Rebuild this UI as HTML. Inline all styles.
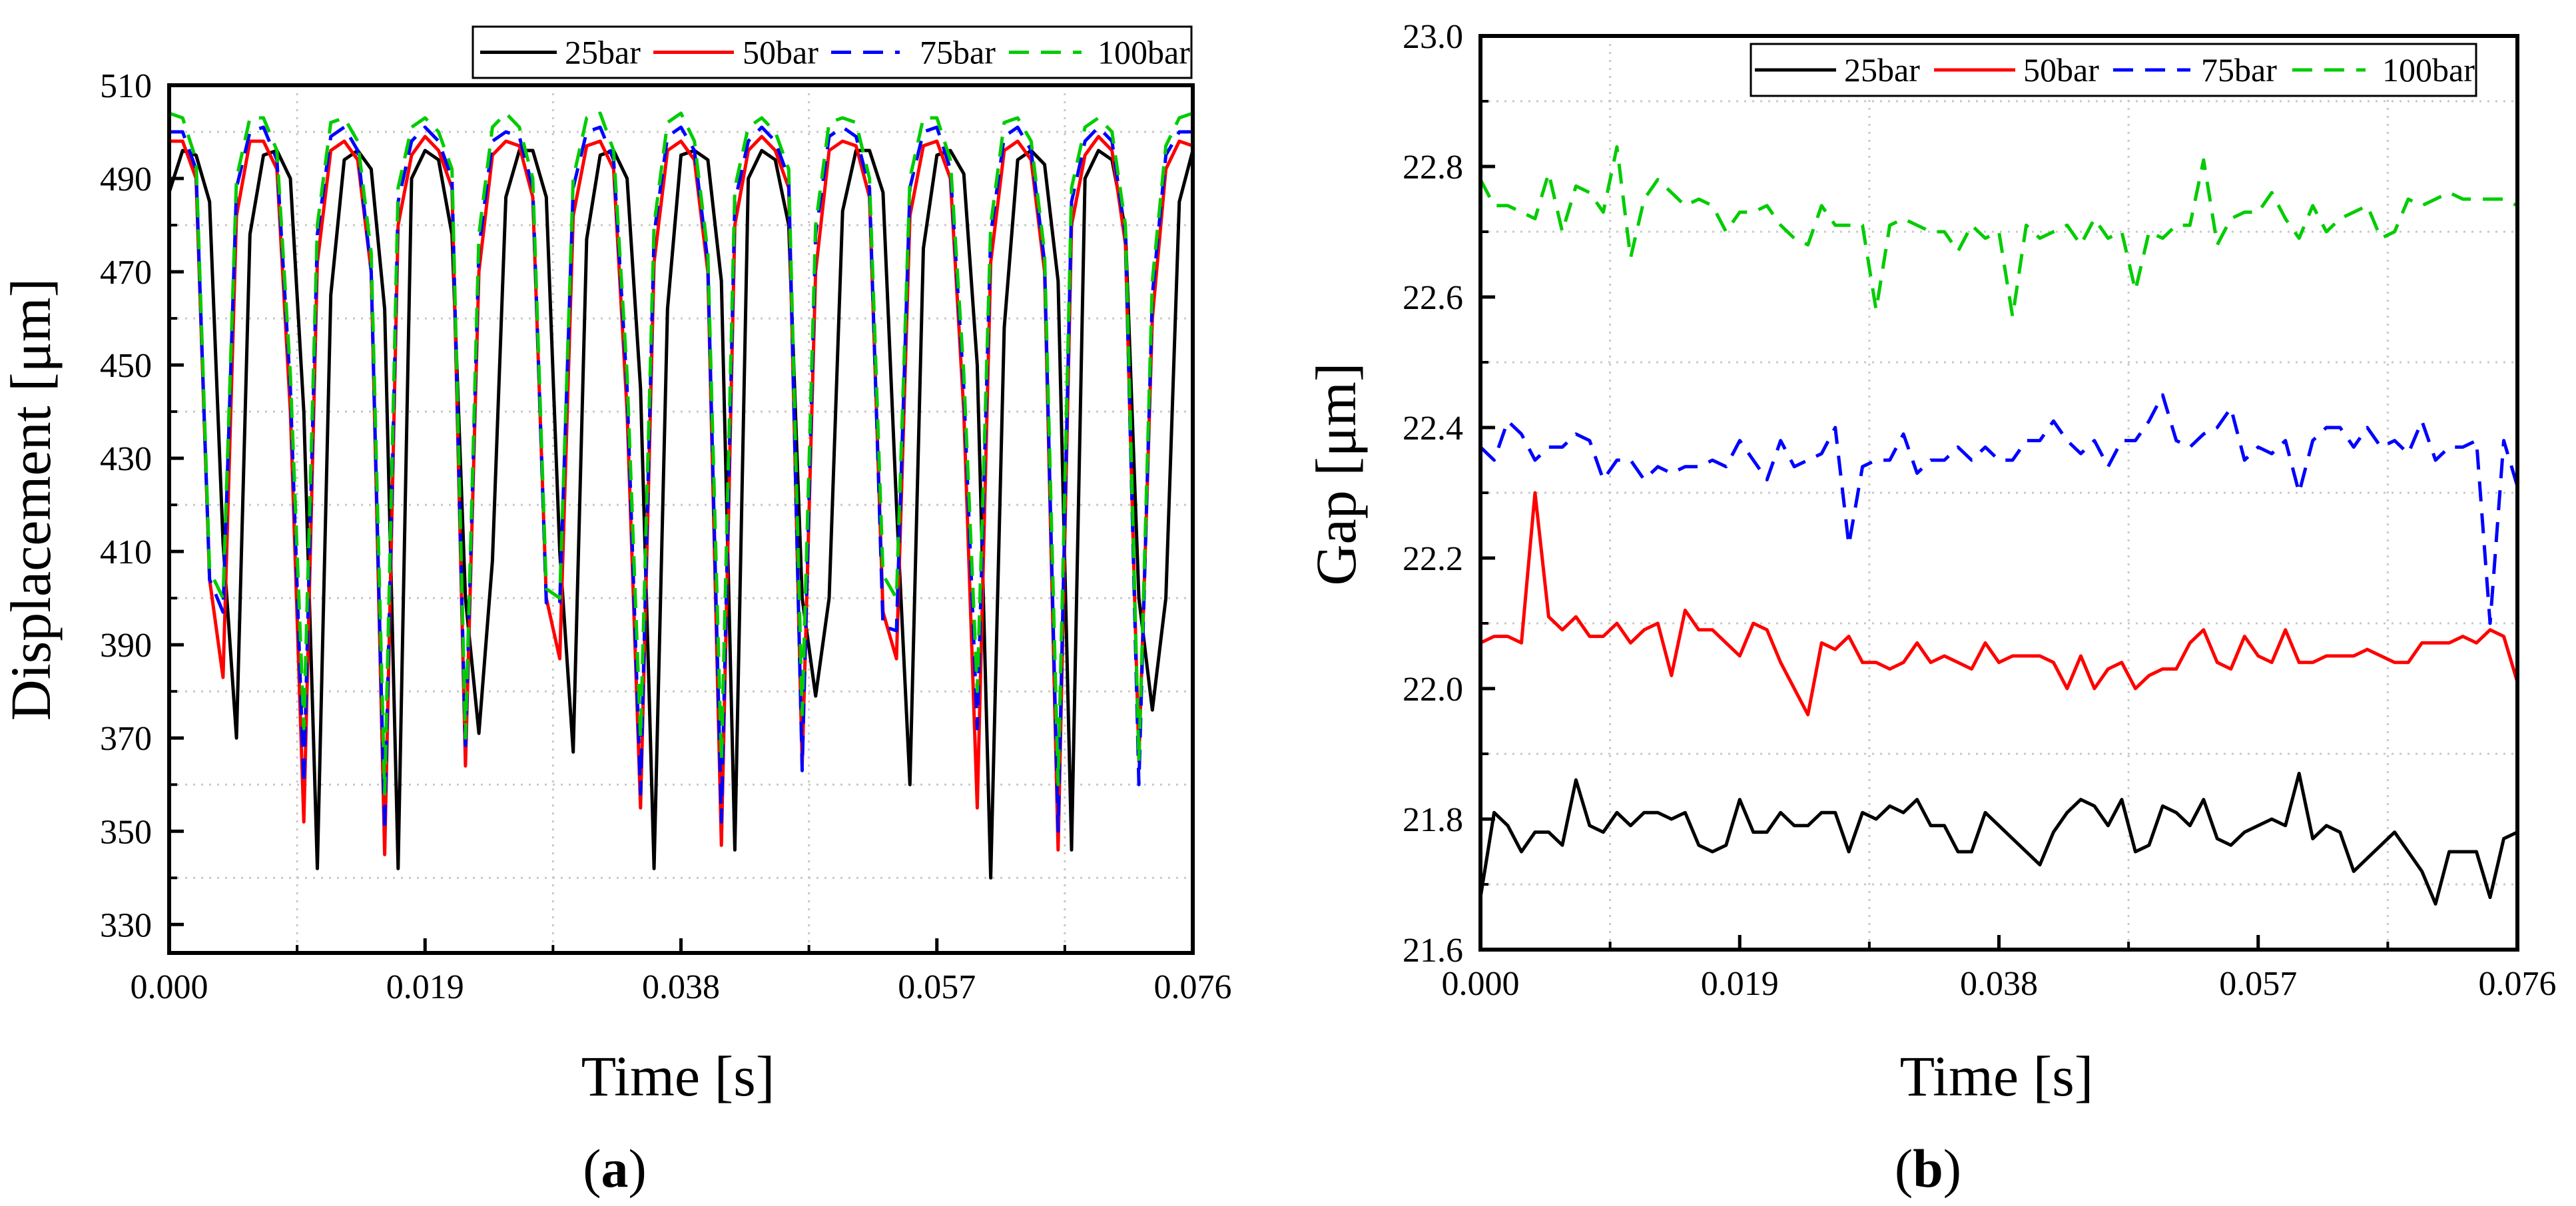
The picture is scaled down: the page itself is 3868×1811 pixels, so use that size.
<!DOCTYPE html>
<html><head><meta charset="utf-8">
<style>
html,body{margin:0;padding:0;background:#fff;}
svg{display:block;font-family:"Liberation Serif",serif;}
</style></head>
<body>
<svg id="fig" width="3868" height="1811" viewBox="0 0 3868 1811" xmlns="http://www.w3.org/2000/svg">
<rect width="3868" height="1811" fill="#fff"/>
<g id="chartA"></g>
<g id="chartB"></g>
</svg>
<script>
// ---- shared data ----
const times = [];
for (let i = 0; i <= 76; i++) times.push(i * 0.001);
const xTickLabels = ["0.000","0.019","0.038","0.057","0.076"];
const xTickValues = [0, 0.019, 0.038, 0.057, 0.076];
const seriesNames = ["25bar","50bar","75bar","100bar"];

// ---- chart (a) data ----
const dispTicks = [330,350,370,390,410,430,450,470,490,510];
const disp25 = [487,496,495,485,412,370,478,495,496,490,440,342,465,494,496,492,462,342,490,496,494,478,400,371,408,486,496,496,486,410,367,477,495,496,490,445,342,462,495,496,494,468,346,490,496,494,480,400,379,400,483,496,496,487,420,360,475,495,496,491,450,340,458,494,496,493,468,346,490,496,494,479,400,376,400,485,496];
const disp50 = [498,498,490,404,383,482,498,498,492,440,352,472,496,498,494,470,345,480,495,499,496,488,364,470,495,498,497,486,400,387,482,497,498,492,440,355,472,496,498,494,470,347,480,496,499,496,488,364,470,496,498,497,486,397,387,482,497,498,490,440,355,472,496,498,494,470,346,480,495,499,496,476,365,460,492,498,497];
const disp75 = [500,500,492,404,397,488,500,501,494,445,360,478,499,501,496,470,350,485,498,501,498,490,367,475,498,500,499,488,399,399,488,500,501,494,445,358,478,499,501,496,472,352,485,498,501,498,490,363,478,499,501,499,488,394,393,488,500,501,492,445,372,478,499,501,496,472,350,485,498,501,498,478,360,465,495,500,500];
const disp100 = [504,503,494,406,400,490,503,503,496,448,372,480,502,503,498,474,358,488,501,503,500,492,370,478,501,504,501,490,402,400,490,503,504,496,448,370,480,502,504,498,474,365,488,501,503,500,492,375,480,502,503,502,490,405,400,490,503,503,494,448,380,480,502,503,498,474,360,488,501,503,500,480,365,468,497,503,504];

// ---- chart (b) data ----
const gapTicks = [21.6,21.8,22.0,22.2,22.4,22.6,22.8,23.0];
const gapTickLabels = ["21.6","21.8","22.0","22.2","22.4","22.6","22.8","23.0"];
const gap25 = [21.68,21.81,21.79,21.75,21.78,21.78,21.76,21.86,21.79,21.78,21.81,21.79,21.81,21.81,21.80,21.81,21.76,21.75,21.76,21.83,21.78,21.78,21.81,21.79,21.79,21.81,21.81,21.75,21.81,21.80,21.82,21.81,21.83,21.79,21.79,21.75,21.75,21.81,21.79,21.77,21.75,21.73,21.78,21.81,21.83,21.82,21.79,21.83,21.75,21.76,21.82,21.81,21.79,21.83,21.77,21.76,21.78,21.79,21.80,21.79,21.87,21.77,21.79,21.78,21.72,21.74,21.76,21.78,21.75,21.72,21.67,21.75,21.75,21.75,21.68,21.77,21.78];
const gap50 = [22.07,22.08,22.08,22.07,22.30,22.11,22.09,22.11,22.08,22.08,22.10,22.07,22.09,22.10,22.02,22.12,22.09,22.09,22.07,22.05,22.10,22.09,22.04,22.00,21.96,22.07,22.06,22.08,22.04,22.04,22.03,22.04,22.07,22.04,22.05,22.04,22.03,22.07,22.04,22.05,22.05,22.05,22.04,22.00,22.05,22.00,22.03,22.04,22.00,22.02,22.03,22.03,22.07,22.09,22.04,22.03,22.08,22.05,22.04,22.09,22.04,22.04,22.05,22.05,22.05,22.06,22.05,22.04,22.04,22.07,22.07,22.07,22.08,22.07,22.09,22.08,22.01];
const gap75 = [22.37,22.35,22.41,22.39,22.35,22.37,22.37,22.39,22.38,22.32,22.35,22.35,22.32,22.34,22.33,22.34,22.34,22.35,22.34,22.38,22.35,22.32,22.38,22.34,22.35,22.36,22.40,22.22,22.34,22.35,22.35,22.39,22.33,22.35,22.35,22.37,22.35,22.37,22.35,22.35,22.38,22.38,22.41,22.38,22.36,22.38,22.34,22.38,22.38,22.41,22.45,22.38,22.37,22.39,22.40,22.43,22.35,22.37,22.36,22.38,22.30,22.38,22.40,22.40,22.37,22.40,22.37,22.38,22.36,22.41,22.35,22.37,22.37,22.38,22.10,22.38,22.31];
const gap100 = [22.78,22.74,22.74,22.73,22.72,22.79,22.70,22.77,22.76,22.73,22.83,22.66,22.75,22.78,22.76,22.74,22.75,22.74,22.70,22.73,22.73,22.74,22.71,22.69,22.68,22.74,22.71,22.71,22.71,22.58,22.71,22.72,22.71,22.70,22.70,22.67,22.71,22.69,22.70,22.57,22.71,22.69,22.70,22.71,22.68,22.72,22.69,22.70,22.61,22.70,22.69,22.71,22.71,22.81,22.68,22.72,22.73,22.73,22.76,22.72,22.69,22.74,22.70,22.72,22.73,22.74,22.69,22.70,22.75,22.74,22.75,22.76,22.75,22.75,22.75,22.75,22.74];

const NS = "http://www.w3.org/2000/svg";
function mk(parent, tag, attrs, text) {
  const el = document.createElementNS(NS, tag);
  for (const k in attrs) el.setAttribute(k, attrs[k]);
  if (text !== undefined) el.textContent = text;
  parent.appendChild(el);
  return el;
}
const colors = ["#000000","#ff0000","#0000ff","#00cc00"];
const dashes = ["none","none","30 18","30 18"];

function drawChart(g, cfg) {
  const sx = v => cfg.x0 + (v - cfg.xmin) / (cfg.xmax - cfg.xmin) * (cfg.x1 - cfg.x0);
  const sy = v => cfg.y1 - (v - cfg.ymin) / (cfg.ymax - cfg.ymin) * (cfg.y1 - cfg.y0);
  // grid (at midpoints)
  for (let i = 0; i < xTickValues.length - 1; i++) {
    const x = sx((xTickValues[i] + xTickValues[i+1]) / 2);
    const gl = mk(g, "line", {x1:x, x2:x, y1:cfg.y0, y2:cfg.y1, stroke:"#c8c8c8", "stroke-width":3, "stroke-dasharray":"3 9"});
    
    
    const tk = mk(g, "line", {x1:x, x2:x, y1:cfg.y1, y2:cfg.y1 - 12, stroke:"#000", "stroke-width":4});
    
    
  }
  for (let i = 0; i < cfg.yTicks.length - 1; i++) {
    const y = sy((cfg.yTicks[i] + cfg.yTicks[i+1]) / 2);
    const gl = mk(g, "line", {x1:cfg.x0, x2:cfg.x1, y1:y, y2:y, stroke:"#c8c8c8", "stroke-width":3, "stroke-dasharray":"3 9"});
    
    
    const tk = mk(g, "line", {x1:cfg.x0, x2:cfg.x0 + 12, y1:y, y2:y, stroke:"#000", "stroke-width":4});
    
    
  }
  // series
  cfg.series.forEach((vals, si) => {
    let d = "";
    vals.forEach((v, i) => { d += (i ? "L" : "M") + sx(times[i]).toFixed(1) + "," + sy(Math.max(cfg.ymin, v)).toFixed(1); });
    const p = mk(g, "path", {d:d, fill:"none", stroke:colors[si], "stroke-width":5, "stroke-linejoin":"round", "stroke-dasharray":dashes[si]});
    
    
  });
  // frame
  const fr = mk(g, "rect", {x:cfg.x0, y:cfg.y0, width:cfg.x1 - cfg.x0, height:cfg.y1 - cfg.y0, fill:"none", stroke:"#000", "stroke-width":6});
  
  
  // x ticks
  xTickValues.forEach((v, i) => {
    const x = sx(v);
    const tk = mk(g, "line", {x1:x, x2:x, y1:cfg.y1, y2:cfg.y1 - 22, stroke:"#000", "stroke-width":5});
    
    
    const t = mk(g, "text", {x:x, y:cfg.y1 + 68, "font-size":52, "text-anchor":"middle", fill:"#000"}, xTickLabels[i]);
    
    
  });
  // y ticks
  cfg.yTicks.forEach((v, i) => {
    const y = sy(v);
    const tk = mk(g, "line", {x1:cfg.x0, x2:cfg.x0 + 22, y1:y, y2:y, stroke:"#000", "stroke-width":5});
    
    
    const t = mk(g, "text", {x:cfg.ylabelX, y:y + 18, "font-size":52, "text-anchor":"end", fill:"#000"}, cfg.yTickLabels[i]);
    
    
  });
  // axis titles
  const xt = mk(g, "text", {x:cfg.xTitleX, y:1645, "font-size":86, "text-anchor":"middle", fill:"#000"}, "Time [s]");
  
  
  const yt = mk(g, "text", {x:0, y:0, "font-size":86, "text-anchor":"middle", fill:"#000", transform:"translate(" + cfg.yTitleX + "," + cfg.yTitleY + ") rotate(-90)"}, cfg.yTitle);
  
  
  const cap = mk(g, "text", {x:cfg.capX, y:1782, "font-size":82, "text-anchor":"middle", fill:"#000"});
  
  
  mk(cap, "tspan", {}, "(");
  mk(cap, "tspan", {"font-weight":"bold"}, cfg.cap);
  mk(cap, "tspan", {}, ")");
  // legend
  const L = cfg.legend;
  const lg = mk(g, "g", {});
  
  
  mk(lg, "rect", {x:L.x, y:L.y, width:L.w, height:L.h, fill:"#fff", stroke:"#000", "stroke-width":3});
  L.items.forEach((it, si) => {
    const cy = L.y + L.h / 2;
    const ln = mk(lg, "line", {x1:it[0], x2:it[1], y1:cy, y2:cy, stroke:colors[si], "stroke-width":5, "stroke-dasharray":dashes[si]});
    
    
    const t = mk(lg, "text", {x:it[2], y:cy + 17, "font-size":50, fill:"#000"}, seriesNames[si]);
    
    
  });
}

drawChart(document.getElementById("chartA"), {
  x0:254, x1:1791, y0:128, y1:1431, xmin:0, xmax:0.076, ymin:323.9, ymax:510,
  yTicks:dispTicks, yTickLabels:dispTicks.map(String), ylabelX:228,
  series:[disp25, disp50, disp75, disp100],
  yTitle:"Displacement [μm]", yTitleX:75, yTitleY:750, xTitleX:1018, capX:923, cap:"a",
  legend:{x:710, y:40, w:1079, h:77, items:[[721,836,848],[981,1102,1115],[1248,1351,1381],[1515,1624,1648]]}
});
drawChart(document.getElementById("chartB"), {
  x0:2223, x1:3780, y0:54, y1:1426, xmin:0, xmax:0.076, ymin:21.6, ymax:23.0,
  yTicks:gapTicks, yTickLabels:gapTickLabels, ylabelX:2197,
  series:[gap25, gap50, gap75, gap100],
  yTitle:"Gap [μm]", yTitleX:2035, yTitleY:712, xTitleX:2998, capX:2895, cap:"b",
  legend:{x:2629, y:66, w:1089, h:78, items:[[2635,2757,2769],[2904,3026,3038],[3173,3289,3305],[3442,3552,3577]]}
});
</script>
</body></html>
